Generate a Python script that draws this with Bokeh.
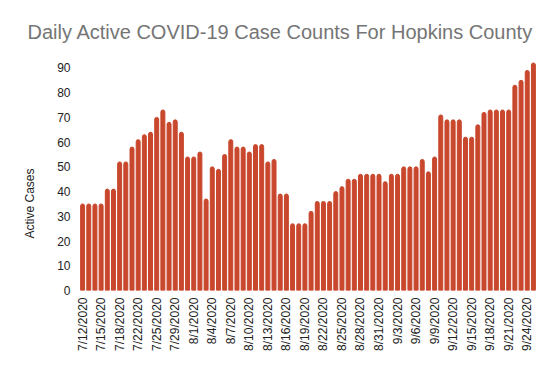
import math
from bokeh.plotting import figure
from bokeh.models import Range1d, SingleIntervalTicker, FixedTicker, Title
from bokeh.embed import file_html
from bokeh.resources import INLINE

title_text = "Daily Active COVID-19 Case Counts For Hopkins County"
y_label = "Active Cases"

dates = [
    "7/12/2020", "7/13/2020", "7/14/2020", "7/15/2020", "7/16/2020", "7/17/2020",
    "7/18/2020", "7/20/2020", "7/21/2020", "7/22/2020", "7/23/2020", "7/24/2020",
    "7/25/2020", "7/27/2020", "7/28/2020", "7/29/2020", "7/30/2020", "7/31/2020",
    "8/1/2020", "8/2/2020", "8/3/2020", "8/4/2020", "8/5/2020", "8/6/2020",
    "8/7/2020", "8/8/2020", "8/9/2020", "8/10/2020", "8/11/2020", "8/12/2020",
    "8/13/2020", "8/14/2020", "8/15/2020", "8/16/2020", "8/17/2020", "8/18/2020",
    "8/19/2020", "8/20/2020", "8/21/2020", "8/22/2020", "8/23/2020", "8/24/2020",
    "8/25/2020", "8/26/2020", "8/27/2020", "8/28/2020", "8/29/2020", "8/30/2020",
    "8/31/2020", "9/1/2020", "9/2/2020", "9/3/2020", "9/4/2020", "9/5/2020",
    "9/6/2020", "9/7/2020", "9/8/2020", "9/9/2020", "9/10/2020", "9/11/2020",
    "9/12/2020", "9/13/2020", "9/14/2020", "9/15/2020", "9/16/2020", "9/17/2020",
    "9/18/2020", "9/19/2020", "9/20/2020", "9/21/2020", "9/22/2020", "9/23/2020",
    "9/24/2020", "9/25/2020",
]

active_cases = [
    35, 35, 35, 35, 41, 41, 52, 52, 58, 61,
    63, 64, 70, 73, 68, 69, 64, 54, 54, 56,
    37, 50, 49, 55, 61, 58, 58, 56, 59, 59,
    52, 53, 39, 39, 27, 27, 27, 32, 36, 36,
    36, 40, 42, 45, 45, 47, 47, 47, 47, 44,
    47, 47, 50, 50, 50, 53, 48, 54, 71, 69,
    69, 69, 62, 62, 67, 72, 73, 73, 73, 73,
    83, 85, 89, 92,
]

label_every = 3

n = len(dates)
positions = list(range(n))

p = figure(
    width=556, height=371,
    x_range=Range1d(-0.5, n - 0.5),
    y_range=Range1d(0, 93),
    output_backend="svg", toolbar_location=None,
    min_border_left=79, min_border_right=20, min_border_top=60, min_border_bottom=81,
)

p.vbar(x=positions, top=active_cases, width=0.64, color="#c8472d",
       border_radius=(2, 2, 0, 0))

p.outline_line_color = None
p.xgrid.visible = False
p.ygrid.visible = False
p.background_fill_color = "white"
p.border_fill_color = "white"

# y axis
p.yaxis.ticker = SingleIntervalTicker(interval=10)
p.yaxis.axis_line_color = None
p.yaxis.major_tick_line_color = None
p.yaxis.minor_tick_line_color = None
p.yaxis.major_tick_out = 0
p.yaxis.major_tick_in = 0
p.yaxis.minor_tick_out = 0
p.yaxis.major_label_standoff = 9
p.yaxis.major_label_text_font = "Liberation Sans"
p.yaxis.major_label_text_font_size = "12px"
p.yaxis.major_label_text_color = "#222222"

# x axis
tick_idx = positions[::label_every]
p.xaxis.ticker = FixedTicker(ticks=tick_idx)
p.xaxis.major_label_overrides = {i: dates[i] for i in tick_idx}
p.xaxis.axis_line_color = None
p.xaxis.major_tick_line_color = None
p.xaxis.minor_tick_line_color = None
p.xaxis.major_tick_out = 0
p.xaxis.major_tick_in = 0
p.xaxis.minor_tick_out = 0
p.xaxis.major_label_orientation = math.pi / 2
p.xaxis.major_label_standoff = 7
p.xaxis.major_label_text_font = "Liberation Sans"
p.xaxis.major_label_text_font_size = "12px"
p.xaxis.major_label_text_color = "#222222"

title = Title(text=title_text, align="left", offset=-52,
              text_font="Liberation Sans", text_font_size="20px",
              text_font_style="normal", text_color="#757575", standoff=35)
p.add_layout(title, "above")

ylab = Title(text=y_label, align="left", offset=52,
             text_font="Liberation Sans", text_font_size="12px",
             text_font_style="normal", text_color="#222222", standoff=35)
p.add_layout(ylab, "left")

open("out.html", "w").write(file_html(p, INLINE))
